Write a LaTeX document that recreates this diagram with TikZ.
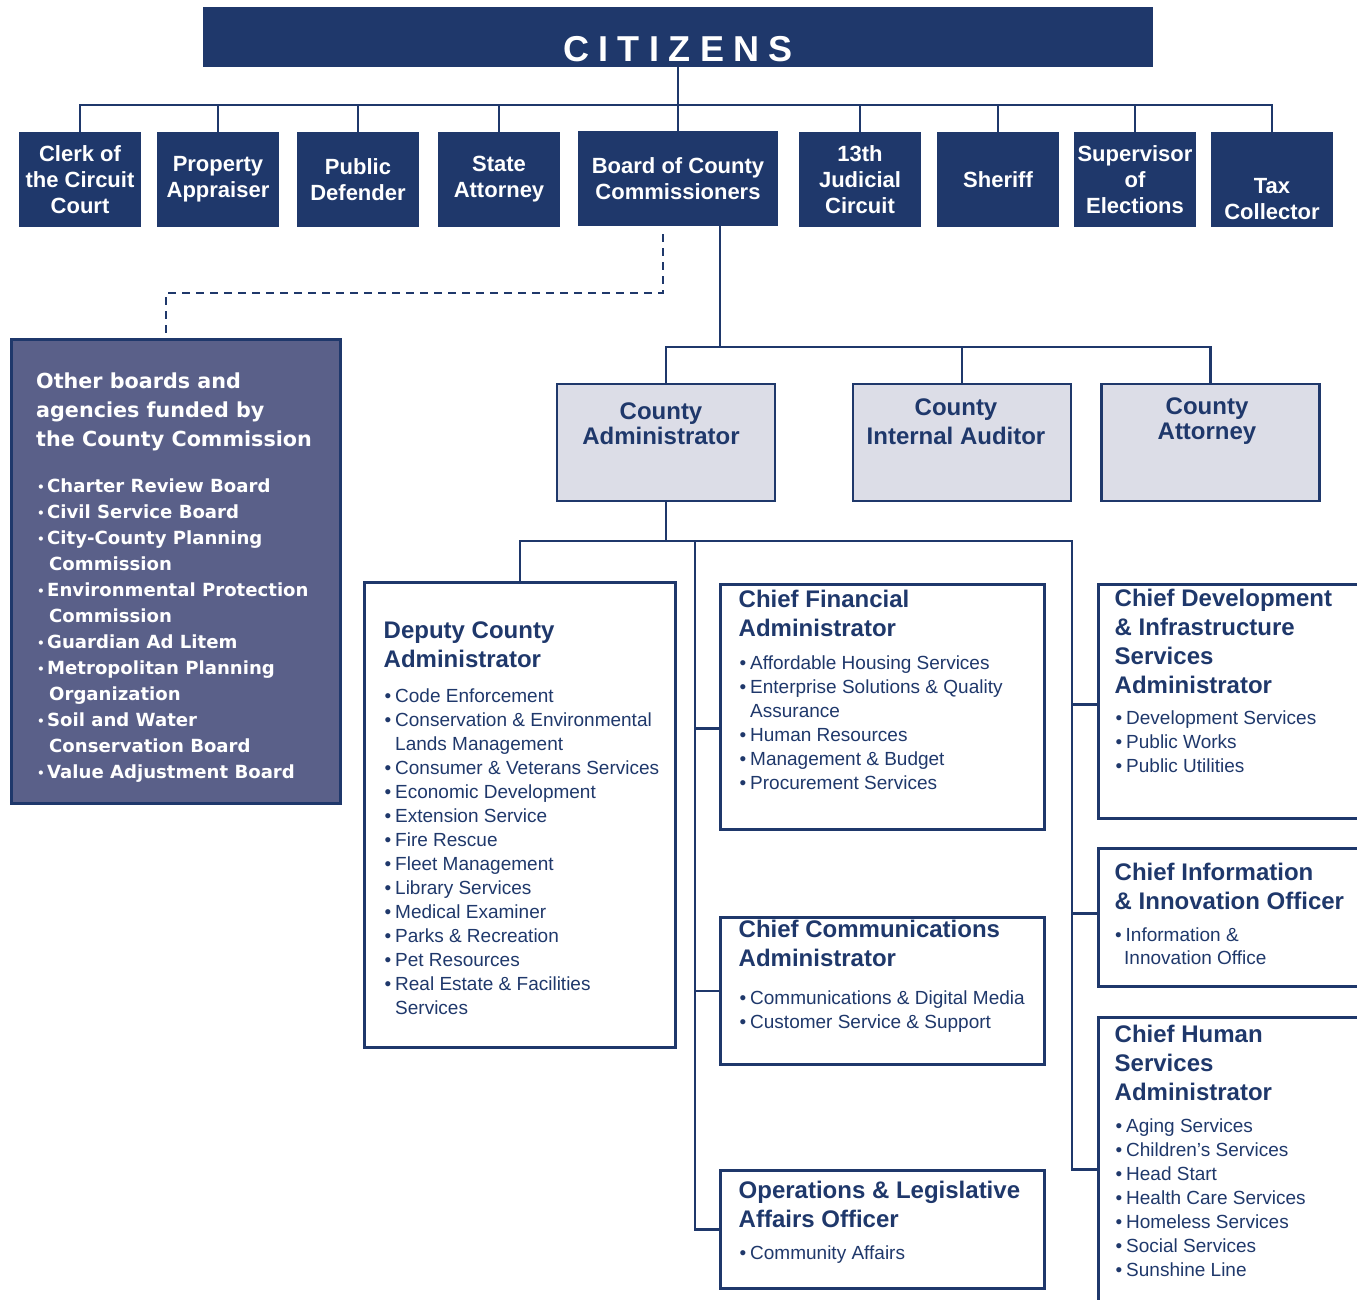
\documentclass[tikz,border=0pt]{standalone}
\usepackage{fontspec}
\setmainfont{Liberation Sans}
\newfontfamily\boardfont{DejaVu Sans}
\usetikzlibrary{positioning}

\definecolor{navy}{RGB}{31,56,107}
\definecolor{slate}{RGB}{90,96,137}
\definecolor{paleblue}{RGB}{220,221,231}

\newcommand{\bul}{\makebox[10.5pt][l]{\textbullet}}
\newcommand{\obul}{\makebox[10pt][l]{\raisebox{1pt}{\fontsize{12}{12}\selectfont\textbullet}}}

\tikzset{
    conn/.style={draw=navy, line width=2.5pt},
    dashconn/.style={conn, dash pattern=on 8pt off 6pt},
    topbox/.style={rectangle, fill=navy, text=white, inner sep=0pt,
        font=\bfseries\fontsize{22}{26}\selectfont, align=center,
        minimum width=122pt, minimum height=95pt},
    midbox/.style={rectangle, draw=navy, line width=2.5pt, fill=paleblue,
        minimum width=218pt, minimum height=117pt},
    midtext/.style={text=navy, font=\bfseries\fontsize{24}{25}\selectfont,
        align=center, inner sep=0pt, anchor=north},
    unitbox/.style={rectangle, draw=navy, line width=2.5pt, fill=white,
        inner sep=0pt, anchor=north west},
    unithead/.style={text=navy, font=\bfseries\fontsize{24}{29}\selectfont,
        align=left, inner sep=0pt, anchor=north west},
    unitlist/.style={text=navy, font=\fontsize{19}{24}\selectfont,
        align=left, inner sep=0pt, anchor=north west},
    boardhead/.style={text=white, font=\boardfont\bfseries\fontsize{20.7}{29}\selectfont,
        align=left, inner sep=0pt, anchor=north west},
    boardlist/.style={text=white, font=\boardfont\bfseries\fontsize{18.1}{26}\selectfont,
        align=left, inner sep=0pt, anchor=north west}
}

\begin{document}
\begin{tikzpicture}[x=1pt, y=-1pt]
    \useasboundingbox (0,0) rectangle (1357,1300);
    \clip (0,0) rectangle (1357,1300);

    % citizens and the elected offices
    \node[fill=navy, text=white, inner sep=0pt, minimum width=950pt, minimum height=60pt,
        text height=55pt, text depth=5pt, font=\bfseries\fontsize{36}{40}\selectfont]
        (citizens) at (678,37) {C\kern9.4pt I\kern9.4pt T\kern9.4pt I\kern9.4pt Z\kern9.4pt E\kern9.4pt N\kern9.4pt S};

    \node[topbox] (clerk) at (80,179.5) {Clerk of\\the Circuit\\Court};
    \node[topbox] (prop) at (218,179.5) {Property\\Appraiser};
    \node[topbox] (pubdef) at (358,179.5) {Public\\Defender};
    \node[topbox] (sa) at (499,179.5) {State\\Attorney};
    \node[topbox, minimum width=200pt] (bocc) at (678,178.5) {Board of County\\Commissioners};
    \node[topbox] (jud) at (860,179.5) {13th\\Judicial\\Circuit};
    \node[topbox] (sheriff) at (998,179.5) {Sheriff};
    \node[topbox] (soe) at (1135,179.5) {Supervisor\\of\\Elections};
    \node[topbox] (tax) at (1272,179.5) {};
    \node[text=white, inner sep=0pt, font=\bfseries\fontsize{22}{26}\selectfont, align=center]
        (tax-t) at (1272,199) {Tax\\Collector};

    \coordinate (bus) at (678,105);
    \draw[conn] (citizens.south) -- (bocc.north);
    \draw[conn] (clerk.north) |- (bus) -| (tax.north);
    \foreach \n in {prop,pubdef,sa,jud,sheriff,soe}
        \draw[conn] (\n.north) -- (\n.north |- bus);

    % other boards
    \node[rectangle, draw=navy, line width=2.5pt, fill=slate, inner sep=0pt, anchor=north west,
        minimum width=329pt, minimum height=464pt] (other) at (10,338) {};
    \node[boardhead] (other-h) at (36,373) {Other boards and\\agencies funded by\\the County Commission};
    \node[boardlist] (other-l) at (37,479) {\obul Charter Review Board\\
        \obul Civil Service Board\\
        \obul City-County Planning\\
        \hspace*{12pt}Commission\\
        \obul Environmental Protection\\
        \hspace*{12pt}Commission\\
        \obul Guardian Ad Litem\\
        \obul Metropolitan Planning\\
        \hspace*{12pt}Organization\\
        \obul Soil and Water\\
        \hspace*{12pt}Conservation Board\\
        \obul Value Adjustment Board};

    \coordinate (dbend) at (663,293);
    \draw[dashconn] ([xshift=-15pt, yshift=-8pt]bocc.south) -- (dbend) -| ([xshift=156pt]other.north west);

    % appointed by the board
    \node[midbox] (cadm) at (666,442.5) {};
    \node[midtext] (cadm-t) at (661,403) {County\\Administrator};
    \node[midbox] (cia) at (962,442.5) {};
    \node[midtext, font=\bfseries\fontsize{24}{29}\selectfont] (cia-t) at (956,399) {County\\Internal Auditor};
    \node[midbox] (catty) at (1210.5,442.5) {};
    \node[midtext] (catty-t) at (1207,398) {County\\Attorney};

    \coordinate (l2bus) at (720,347);
    \draw[conn] ([xshift=42pt]bocc.south) -- (l2bus);
    \draw[conn] (cadm.north) |- (l2bus) -| (catty.north);
    \draw[conn] (cia.north) -- (cia.north |- l2bus);

    % under the county administrator
    \node[unitbox, minimum width=311pt, minimum height=465pt] (deputy) at (363,581) {};
    \node[unithead] (deputy-h) at (383.5,622) {Deputy County\\Administrator};
    \node[unitlist] (deputy-l) at (384.5,689) {\bul Code Enforcement\\
        \bul Conservation \& Environmental\\
        \hspace*{10.5pt}Lands Management\\
        \bul Consumer \& Veterans Services\\
        \bul Economic Development\\
        \bul Extension Service\\
        \bul Fire Rescue\\
        \bul Fleet Management\\
        \bul Library Services\\
        \bul Medical Examiner\\
        \bul Parks \& Recreation\\
        \bul Pet Resources\\
        \bul Real Estate \& Facilities\\
        \hspace*{10.5pt}Services};

    \node[unitbox, minimum width=324pt, minimum height=245pt] (cfa) at (719,583) {};
    \node[unithead] (cfa-h) at (738.5,590) {Chief Financial\\Administrator};
    \node[unitlist] (cfa-l) at (739.5,656) {\bul Affordable Housing Services\\
        \bul Enterprise Solutions \& Quality\\
        \hspace*{10.5pt}Assurance\\
        \bul Human Resources\\
        \bul Management \& Budget\\
        \bul Procurement Services};

    \node[unitbox, minimum width=324pt, minimum height=147pt] (comm) at (719,916) {};
    \node[unithead] (comm-h) at (738.5,920) {Chief Communications\\Administrator};
    \node[unitlist] (comm-l) at (739.5,991) {\bul Communications \& Digital Media\\
        \bul Customer Service \& Support};

    \node[unitbox, minimum width=324pt, minimum height=118pt] (ops) at (719,1169) {};
    \node[unithead] (ops-h) at (738.5,1181) {Operations \& Legislative\\Affairs Officer};
    \node[unitlist] (ops-l) at (739.5,1246) {\bul Community Affairs};

    \node[unitbox, minimum width=300pt, minimum height=234pt] (dev) at (1097,583) {};
    \node[unithead] (dev-h) at (1114.5,589) {Chief Development\\\& Infrastructure\\Services\\Administrator};
    \node[unitlist] (dev-l) at (1115.5,711) {\bul Development Services\\
        \bul Public Works\\
        \bul Public Utilities};

    \node[unitbox, minimum width=300pt, minimum height=138pt] (info) at (1097,847) {};
    \node[unithead] (info-h) at (1114.5,863) {Chief Information\\\& Innovation Officer};
    \node[unitlist, font=\fontsize{19}{23}\selectfont] (info-l) at (1115,928) {\bul Information \&\\
        \hspace*{9pt}Innovation Office};

    \node[unitbox, minimum width=300pt, minimum height=320pt] (human) at (1097,1016) {};
    \node[unithead] (human-h) at (1114.5,1025) {Chief Human\\Services\\Administrator};
    \node[unitlist] (human-l) at (1115.5,1119) {\bul Aging Services\\
        \bul Children’s Services\\
        \bul Head Start\\
        \bul Health Care Services\\
        \bul Homeless Services\\
        \bul Social Services\\
        \bul Sunshine Line};

    \coordinate (l3bus) at (666,541);
    \coordinate (spineL) at (695,541);
    \coordinate (spineR) at (1072,541);
    \draw[conn] (cadm.south) -- (l3bus);
    \draw[conn] (deputy.north) |- (spineR) |- ([yshift=8pt]human.west);
    \draw[conn] (spineL) |- (ops.west);
    \draw[conn] ([yshift=-21.5pt]cfa.west) -| (spineL);
    \draw[conn] (comm.west) -| (spineL);
    \draw[conn] ([yshift=-3pt]dev.west) -| (spineR);
    \draw[conn] ([yshift=4pt]info.west) -| (spineR);
\end{tikzpicture}
\end{document}
